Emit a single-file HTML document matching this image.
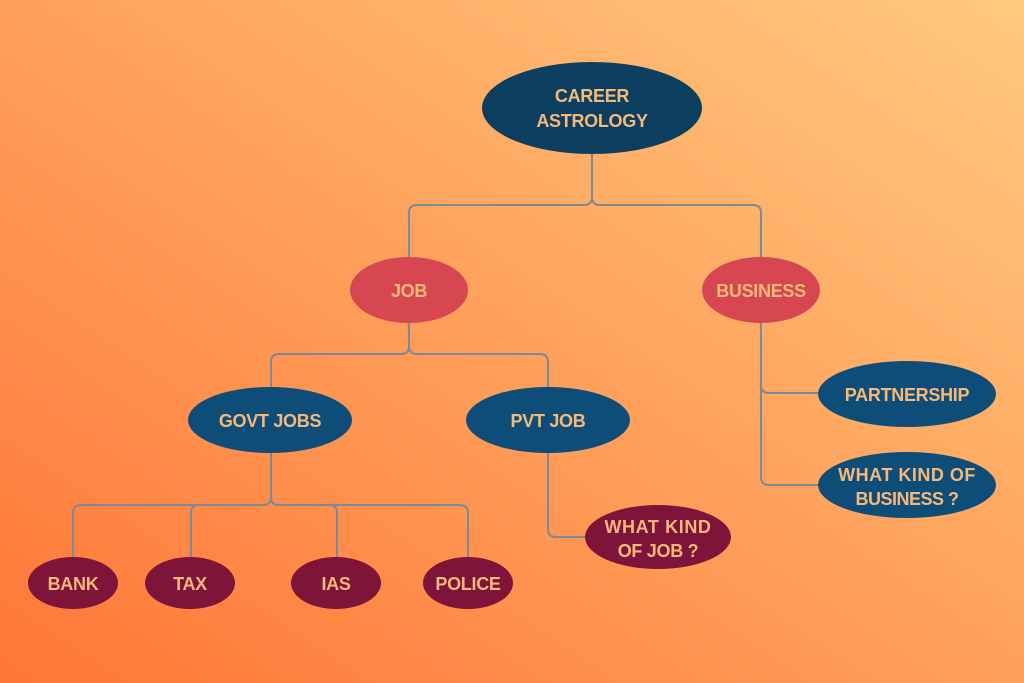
<!DOCTYPE html>
<html>
<head>
<meta charset="utf-8">
<style>
  html,body{margin:0;padding:0;width:1024px;height:683px;overflow:hidden;}
  svg{display:block;}
  text{font-family:"Liberation Sans",sans-serif;font-weight:bold;font-size:18px;fill:#f6b97a;text-anchor:middle;letter-spacing:-0.3px;}
</style>
</head>
<body>
<svg width="1024" height="683" viewBox="0 0 1024 683" xmlns="http://www.w3.org/2000/svg">
  <defs>
    <linearGradient id="bg" x1="0" y1="1" x2="1" y2="0">
      <stop offset="0" stop-color="#ff7636"/>
      <stop offset="0.5" stop-color="#ffa05c"/>
      <stop offset="1" stop-color="#ffca7e"/>
    </linearGradient>
  </defs>
  <rect width="1024" height="683" fill="url(#bg)"/>

  <g fill="none" stroke="#7b8a94" stroke-width="2">
    <path d="M592,154 V197 Q592,205 584,205 H417 Q409,205 409,213 V257"/>
    <path d="M592,154 V197 Q592,205 600,205 H753 Q761,205 761,213 V257"/>
    <path d="M409,323 V346 Q409,354 401,354 H279 Q271,354 271,362 V387"/>
    <path d="M409,323 V346 Q409,354 417,354 H540 Q548,354 548,362 V387"/>
    <path d="M271,453 V497 Q271,505 263,505 H81 Q73,505 73,513 V557"/>
    <path d="M271,453 V497 Q271,505 263,505 H199 Q191,505 191,513 V557"/>
    <path d="M271,453 V497 Q271,505 279,505 H329 Q337,505 337,513 V557"/>
    <path d="M271,453 V497 Q271,505 279,505 H460 Q468,505 468,513 V557"/>
    <path d="M548,453 V529 Q548,537 556,537 H586"/>
    <path d="M761,323 V385 Q761,393 769,393 H819"/>
    <path d="M761,323 V477 Q761,485 769,485 H819"/>
  </g>

  <ellipse cx="592" cy="108" rx="110" ry="46" fill="#0c3f5f"/>
  <text x="592" y="102">CAREER</text>
  <text x="592" y="127">ASTROLOGY</text>

  <ellipse cx="409" cy="290" rx="59" ry="33" fill="#d64752"/>
  <text x="409" y="297">JOB</text>
  <ellipse cx="761" cy="290" rx="59" ry="33" fill="#d64752"/>
  <text x="761" y="297">BUSINESS</text>

  <ellipse cx="270" cy="420" rx="82" ry="33" fill="#0e4d78"/>
  <text x="270" y="427">GOVT JOBS</text>
  <ellipse cx="548" cy="420" rx="82" ry="33" fill="#0e4d78"/>
  <text x="548" y="427">PVT JOB</text>

  <ellipse cx="907" cy="394" rx="89" ry="33" fill="#0e4d78"/>
  <text x="907" y="401">PARTNERSHIP</text>
  <ellipse cx="907" cy="485" rx="89" ry="33" fill="#0e4d78"/>
  <text x="907" y="481" style="letter-spacing:0.5px">WHAT KIND OF</text>
  <text x="907" y="505" style="letter-spacing:-0.5px">BUSINESS ?</text>

  <ellipse cx="73" cy="583" rx="45" ry="26" fill="#7e1439"/>
  <text x="73" y="590">BANK</text>
  <ellipse cx="190" cy="583" rx="45" ry="26" fill="#7e1439"/>
  <text x="190" y="590">TAX</text>
  <ellipse cx="336" cy="583" rx="45" ry="26" fill="#7e1439"/>
  <text x="336" y="590">IAS</text>
  <ellipse cx="468" cy="583" rx="45" ry="26" fill="#7e1439"/>
  <text x="468" y="590">POLICE</text>

  <ellipse cx="658" cy="537" rx="73" ry="32" fill="#7e1439"/>
  <text x="658" y="533" style="letter-spacing:0.6px">WHAT KIND</text>
  <text x="658" y="557" style="letter-spacing:-0.3px">OF JOB ?</text>
</svg>
</body>
</html>
